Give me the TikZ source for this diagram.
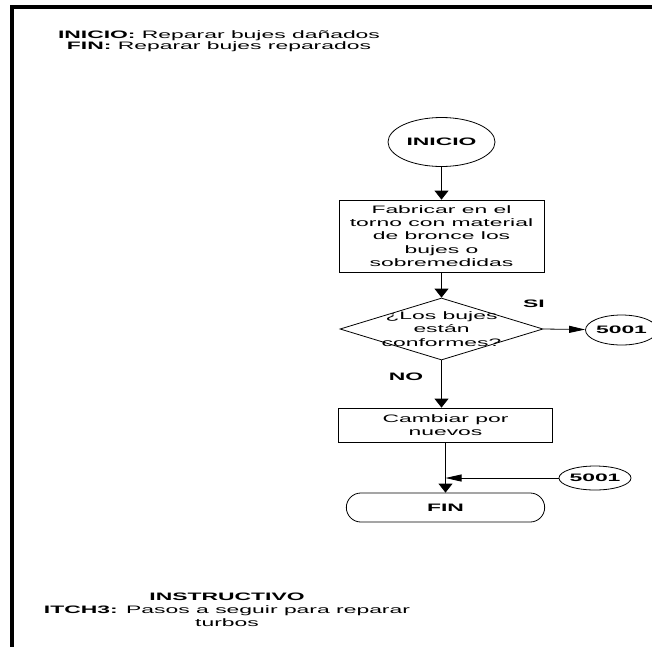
\documentclass[tikz,border=0pt]{standalone}
\usepackage{fontspec}
\setmainfont{Liberation Sans}[FakeStretch=2.12]
\usetikzlibrary{shapes.geometric,shapes.misc,arrows.meta}
\tikzset{
  linea/.style={line width=0.8pt},
  terminal/.style={ellipse,draw,linea,inner sep=0pt},
  proceso/.style={rectangle,draw,linea,inner sep=0pt,align=center},
  decision/.style={diamond,draw,linea,inner sep=0pt},
  conector/.style={ellipse,draw,linea,inner sep=0pt},
  flechav/.style={linea,-{Triangle[length=9pt,width=14pt]}},
  flechah/.style={linea,-{Triangle[length=16pt,width=7pt]}},
  texto/.style={inner sep=0pt,align=center}
}
\begin{document}
\begin{tikzpicture}[x=1pt,y=-1pt,font=\fontsize{10.8}{13.2}\selectfont]
 \useasboundingbox[fill=white] (0,0) rectangle (652,646);
 \draw[line width=3.5pt,line join=miter] (12,660) -- (12,7) -- (660,7);
 \node[texto,font=\fontsize{10.8}{10}\selectfont] (encabezado) at (219,41.5)
   {\textbf{INICIO:} Reparar bujes dañados\\\textbf{FIN:} Reparar bujes reparados};
 \node[terminal,minimum width=107pt,minimum height=49pt] (inicio) at (441.5,142) {\textbf{INICIO}};
 \node[proceso,minimum width=205pt,minimum height=72pt] (fabricar) at (441.5,236)
   {Fabricar en el\\torno con material\\de bronce los\\bujes o\\sobremedidas};
 \node[decision,minimum width=203pt,minimum height=62pt] (pregunta) at (441.5,329) {};
 \node[texto] (preguntatxt) at (pregunta) {¿Los bujes\\están\\conformes?};
 \node[conector,minimum width=57pt,minimum height=30pt] (salida) at (621.5,330) {\textbf{5001}};
 \node[proceso,minimum width=214pt,minimum height=34pt] (cambiar) at (445.5,425) {Cambiar por\\nuevos};
 \node[conector,minimum width=66pt,minimum height=24pt] (entrada) at (595,478) {\textbf{5001}};
 \node[rounded rectangle,draw,linea,minimum width=205pt,minimum height=29pt] (fin) at (445.5,507.5) {\textbf{FIN}};
 \node[texto,font=\fontsize{10.8}{13}\selectfont\bfseries] (si) at (534,303.5) {SI};
 \node[texto,font=\fontsize{10.8}{13}\selectfont\bfseries] (no) at (406,376.5) {NO};
 \draw[flechav] (inicio) -- (fabricar);
 \draw[flechav] (fabricar) -- (pregunta);
 \draw[flechah] (pregunta.east) -- (salida);
 \draw[flechav] (pregunta.south) -- (pregunta.south |- cambiar.north);
 \draw[flechav] (cambiar) -- (fin);
 \draw[flechah] (entrada) -- (fin.north |- entrada);
 \node[texto,font=\fontsize{10.8}{13}\selectfont] (instructivo) at (227,610)
   {\textbf{INSTRUCTIVO}\\\textbf{ITCH3:} Pasos a seguir para reparar\\turbos};
\end{tikzpicture}
\end{document}
